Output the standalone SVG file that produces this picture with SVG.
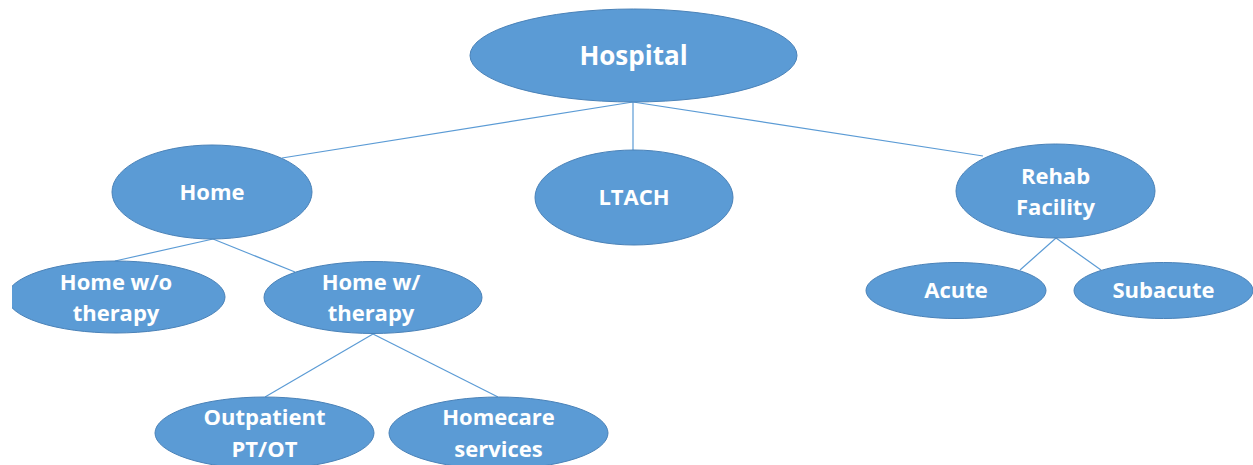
<svg xmlns="http://www.w3.org/2000/svg" width="1253" height="465" viewBox="0 0 1253 465">
<style>
.n{fill:#5B9BD5;stroke:#4A82B8;stroke-width:1}
.t{fill:#FFFFFF;font-family:"Open Sans","Liberation Sans",sans-serif;font-weight:bold;font-size:22px;text-anchor:middle}
.c line{stroke:#5B9BD5;stroke-width:1.2}
</style>
<defs><clipPath id="clipL"><rect x="12" y="0" width="1241" height="465"/></clipPath></defs>
<rect width="1253" height="465" fill="#FFFFFF"/>
<g class="c" id="connectors">
<line x1="633" y1="102" x2="282" y2="158"/>
<line x1="633" y1="102" x2="633" y2="150"/>
<line x1="633" y1="102" x2="983" y2="156"/>
<line x1="213" y1="239" x2="115" y2="261"/>
<line x1="213" y1="239" x2="295" y2="272"/>
<line x1="373" y1="334" x2="265" y2="397"/>
<line x1="373" y1="334" x2="498" y2="397"/>
<line x1="1056" y1="238" x2="1020" y2="270"/>
<line x1="1056" y1="238" x2="1101" y2="270"/>
</g>
<g id="hospital"><ellipse class="n" cx="633.5" cy="55.5" rx="163.5" ry="46.5"/><text class="t" x="633.5" y="65" style="font-size:26px">Hospital</text></g>
<g id="home"><ellipse class="n" cx="212" cy="192" rx="100" ry="47"/><text class="t" x="212" y="200">Home</text></g>
<g id="ltach"><ellipse class="n" cx="634" cy="197.5" rx="99" ry="47.5"/><text class="t" x="634" y="205">LTACH</text></g>
<g id="rehab"><ellipse class="n" cx="1055.5" cy="191" rx="99.5" ry="47"/><text class="t" x="1055.5" y="184">Rehab</text><text class="t" x="1055.5" y="215">Facility</text></g>
<g id="home-wo" clip-path="url(#clipL)"><ellipse class="n" cx="116" cy="297" rx="109" ry="36"/><text class="t" x="116" y="290">Home w/o</text><text class="t" x="116" y="321">therapy</text></g>
<g id="home-w"><ellipse class="n" cx="373" cy="297.5" rx="109" ry="36"/><text class="t" x="371" y="290">Home w/</text><text class="t" x="371" y="321">therapy</text></g>
<g id="outpatient"><ellipse class="n" cx="264.5" cy="433" rx="109.5" ry="36"/><text class="t" x="264.5" y="425">Outpatient</text><text class="t" x="264.5" y="457">PT/OT</text></g>
<g id="homecare"><ellipse class="n" cx="498.5" cy="433" rx="109.5" ry="36"/><text class="t" x="498.5" y="425">Homecare</text><text class="t" x="498.5" y="457">services</text></g>
<g id="acute"><ellipse class="n" cx="956" cy="290.5" rx="90" ry="28"/><text class="t" x="956" y="298">Acute</text></g>
<g id="subacute"><ellipse class="n" cx="1163.5" cy="290.5" rx="89.5" ry="28"/><text class="t" x="1163.5" y="298">Subacute</text></g>
</svg>
